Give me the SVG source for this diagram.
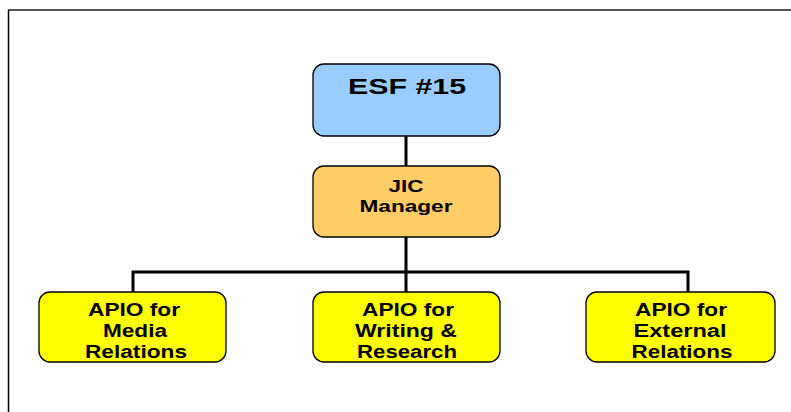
<svg xmlns="http://www.w3.org/2000/svg" width="791" height="412" viewBox="0 0 791 412">
<style>
.box{stroke:#000;stroke-width:1.3}
.t{font-family:"Liberation Sans",Arial,sans-serif;font-weight:bold;fill:#000;text-anchor:middle}
.s{font-size:18px}
.c{stroke:#000;stroke-width:3;fill:none}
</style>
<rect x="0" y="0" width="791" height="412" fill="#fff"/>
<line x1="8" y1="10" x2="791" y2="10" stroke="#555" stroke-width="2"/>
<line x1="8.5" y1="10" x2="8.5" y2="412" stroke="#000" stroke-width="1.5"/>
<g id="connectors">
<path class="c" d="M406 136V166M406 237V292M133 292V272H688V292"/>
</g>
<g id="esf">
<rect class="box" x="313" y="64" width="187" height="72" rx="11" fill="#99CCFF"/>
<text class="t" x="407" y="94" font-size="22" textLength="118" lengthAdjust="spacingAndGlyphs">ESF #15</text>
</g>
<g id="jic">
<rect class="box" x="313" y="166" width="187" height="71" rx="11" fill="#FFCC66"/>
<text class="t" x="406" y="192" font-size="16" textLength="35" lengthAdjust="spacingAndGlyphs">JIC</text>
<text class="t" x="406" y="212" font-size="16" textLength="93" lengthAdjust="spacingAndGlyphs">Manager</text>
</g>
<g id="apio-media">
<rect class="box" x="39" y="292" width="187" height="70" rx="11" fill="#FFFF00"/>
<text class="t s" x="134" y="316" textLength="92" lengthAdjust="spacingAndGlyphs">APIO for</text>
<text class="t s" x="135" y="337" textLength="64" lengthAdjust="spacingAndGlyphs">Media</text>
<text class="t s" x="136" y="358" textLength="102" lengthAdjust="spacingAndGlyphs">Relations</text>
</g>
<g id="apio-writing">
<rect class="box" x="313" y="292" width="187" height="70" rx="11" fill="#FFFF00"/>
<text class="t s" x="408" y="316" textLength="92" lengthAdjust="spacingAndGlyphs">APIO for</text>
<text class="t s" x="406" y="337" textLength="102" lengthAdjust="spacingAndGlyphs">Writing &amp;</text>
<text class="t s" x="407" y="358" textLength="100" lengthAdjust="spacingAndGlyphs">Research</text>
</g>
<g id="apio-external">
<rect class="box" x="586" y="292" width="189" height="70" rx="11" fill="#FFFF00"/>
<text class="t s" x="681" y="316" textLength="92" lengthAdjust="spacingAndGlyphs">APIO for</text>
<text class="t s" x="680" y="337" textLength="93" lengthAdjust="spacingAndGlyphs">External</text>
<text class="t s" x="682" y="358" textLength="101" lengthAdjust="spacingAndGlyphs">Relations</text>
</g>
</svg>
